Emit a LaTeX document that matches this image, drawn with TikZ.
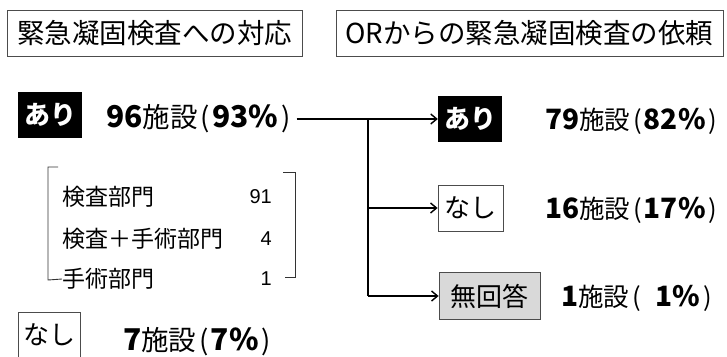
\documentclass[tikz,border=0pt]{standalone}
\usepackage{fontspec}
\setmainfont{Noto Sans CJK JP}
\newfontfamily\jp{Noto Sans CJK JP}
\newfontfamily\arl{Liberation Sans}
\newcommand\mystatline[4]{{\jp\bfseries\fontsize{#3}{#3}\selectfont #1}{\jp\fontsize{#4}{#4}\selectfont 施設\hspace{3pt}(\hspace{2pt}}{\jp\bfseries\fontsize{#3}{#3}\selectfont #2\%}{\jp\fontsize{#4}{#4}\selectfont\hspace{3pt})}}
\usetikzlibrary{arrows.meta}
\begin{document}
\begin{tikzpicture}[x=1pt,y=-1pt,
  frame/.style={draw=black!70,line width=0.8pt,inner sep=0pt},
  title/.style={frame,font=\jp\fontsize{27.5}{30}\selectfont},
  blackbox/.style={fill=black,text=white,inner sep=0pt,minimum width=64pt,minimum height=46pt,font=\jp\bfseries\fontsize{26}{28}\selectfont},
  whitebox/.style={frame,minimum height=46pt,font=\jp\fontsize{26}{28}\selectfont},
  graybox/.style={whitebox,fill=black!15},
  stat/.style={anchor=west,inner sep=0pt},
  item/.style={anchor=west,inner sep=0pt,font=\jp\fontsize{23}{26}\selectfont},
  num/.style={anchor=east,inner sep=0pt,font=\arl\fontsize{20}{22}\selectfont},
  conn/.style={line width=1.4pt,black},
  arr/.style={conn,-{Straight Barb[length=6pt,width=10pt,line width=1.4pt]}},
  brk/.style={line width=0.9pt,black!80}]
\useasboundingbox (0,0) rectangle (727,356);
% titles
\node[title,minimum width=295pt,minimum height=46pt] (t1) at (154.5,33) {緊急凝固検査への対応};
\node[title,minimum width=387pt,minimum height=46pt] (t2) at (529.5,33) {ORからの緊急凝固検査の依頼};
% left side
\node[blackbox] (ari1) at (50,115) {あり};
\node[stat] (s1) at (106,119) {\mystatline{96}{93}{30}{27.5}};
\node[item] (i1) at (62,197) {検査部門};
\node[item] (i2) at (62,239) {検査＋手術部門};
\node[item] (i3) at (62,279) {手術部門};
\node[num] (n1) at (272,197) {91};
\node[num] (n2) at (272,239) {4};
\node[num] (n3) at (272,279) {1};
\draw[brk] (58,167) -- (48,167) -- (48,280) -- (i3.west);
\draw[brk] (283,172) -- (295,172) -- (295,277) -- (285,277);
\node[whitebox,minimum width=62pt] (nashi1) at (49,335) {なし};
\node[stat] (s7) at (123,342) {\mystatline{7}{7}{30}{27.5}};
% right side
\node[blackbox] (ari2) at (470,119) {あり};
\node[whitebox,minimum width=65pt] (nashi2) at (470.5,208) {なし};
\node[graybox,minimum width=101pt,minimum height=47pt] (muk) at (489.5,296) {無回答};
\node[stat] (s2) at (545,121) {\mystatline{79}{82}{28}{25.5}};
\node[stat] (s3) at (545,210) {\mystatline{16}{17}{28}{25.5}};
\node[stat] (s4) at (561,298) {\mystatline{1}{\hspace{0.45em}1}{28}{25.5}};
% connectors
\path (s1.east) ++(6,0) coordinate (st);
\coordinate (j1) at (368,119);
\draw[arr] (st |- ari2.west) -- (ari2.west);
\draw[conn] (j1) -- (j1 |- muk.west);
\draw[arr] (j1 |- nashi2.west) -- (nashi2.west);
\draw[arr] (j1 |- muk.west) -- (muk.west);
\end{tikzpicture}
\end{document}
